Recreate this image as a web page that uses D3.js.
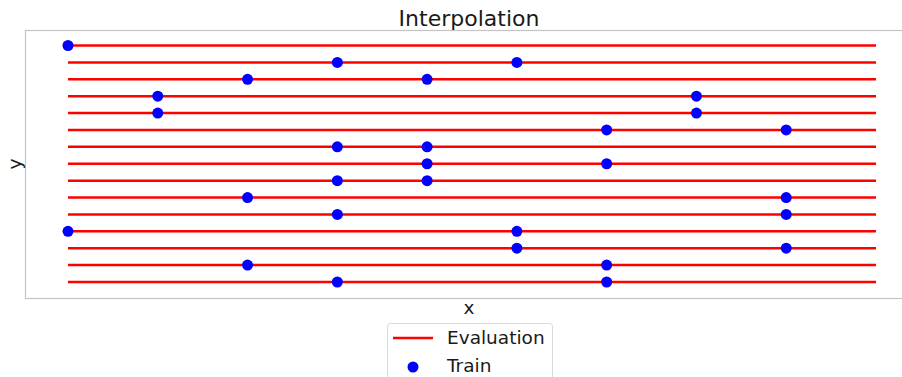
<!DOCTYPE html>
<html>
<head>
<meta charset="utf-8">
<script src="https://cdn.jsdelivr.net/npm/d3@7"></script>
<style>
  body { margin: 0; background: #fff; }
  text { font-family: "DejaVu Sans", sans-serif; fill: #1a1a1a; }
</style>
</head>
<body>
<div id="chart"></div>
<script>
// data: 15 evaluation rows, each spanning x = 0..9, with training points on some columns
const rows = d3.range(15)
const x_start = 0
const x_end = 9
const train_x = [0, 3, 5, 2, 4, 1, 7, 1, 7, 6, 8, 3, 4, 4, 6, 3, 4, 2, 8, 3, 8, 0, 5, 5, 8, 2, 6, 3, 6]
const train_row = [0, 1, 1, 2, 2, 3, 3, 4, 4, 5, 5, 6, 6, 7, 7, 8, 8, 9, 9, 10, 10, 11, 11, 12, 12, 13, 13, 14, 14]

const width = 902, height = 377
const box = {left: 25, right: 914, top: 30, bottom: 298}

const svg = d3.select("#chart").append("svg")
    .attr("width", width)
    .attr("height", height)

const x = d3.scaleLinear().domain([x_start, x_end]).range([68, 876])
const y = d3.scaleLinear().domain([0, 14]).range([45.5, 282])

// axes frame
svg.append("rect")
    .attr("x", box.left + 0.5)
    .attr("y", box.top + 0.5)
    .attr("width", box.right - box.left)
    .attr("height", box.bottom - box.top)
    .attr("fill", "none")
    .attr("stroke", "#c4c4c4")
    .attr("stroke-width", 1.2)

// evaluation lines
svg.append("g").selectAll("line")
    .data(rows)
    .join("line")
        .attr("x1", x(x_start))
        .attr("x2", x(x_end))
        .attr("y1", d => y(d))
        .attr("y2", d => y(d))
        .attr("stroke", "#ff0000")
        .attr("stroke-width", 2.5)

// training points
svg.append("g").selectAll("circle")
    .data(train_x.map((v, i) => ({x: v, r: train_row[i]})))
    .join("circle")
        .attr("cx", d => x(d.x))
        .attr("cy", d => y(d.r))
        .attr("r", 5.5)
        .attr("fill", "#0000ff")

// title + axis labels
svg.append("text")
    .attr("x", 469)
    .attr("y", 26)
    .attr("text-anchor", "middle")
    .style("font-size", "22px")
    .text("Interpolation")

svg.append("text")
    .attr("x", 469)
    .attr("y", 314)
    .attr("text-anchor", "middle")
    .style("font-size", "18.5px")
    .text("x")

svg.append("text")
    .attr("transform", `translate(21, ${(box.top + box.bottom) / 2}) rotate(-90)`)
    .attr("text-anchor", "middle")
    .style("font-size", "18.5px")
    .text("y")

// legend
const legend = svg.append("g")
legend.append("rect")
    .attr("x", 387.5)
    .attr("y", 323.5)
    .attr("width", 165)
    .attr("height", 62)
    .attr("rx", 3)
    .attr("fill", "white")
    .attr("stroke", "#d9d9d9")

legend.append("line")
    .attr("x1", 393)
    .attr("x2", 433)
    .attr("y1", 338)
    .attr("y2", 338)
    .attr("stroke", "#ff0000")
    .attr("stroke-width", 2.5)

legend.append("text")
    .attr("x", 447)
    .attr("y", 344)
    .style("font-size", "18.5px")
    .text("Evaluation")

legend.append("circle")
    .attr("cx", 413)
    .attr("cy", 367)
    .attr("r", 5.5)
    .attr("fill", "#0000ff")

legend.append("text")
    .attr("x", 447)
    .attr("y", 372)
    .style("font-size", "18.5px")
    .text("Train")
</script>
</body>
</html>
